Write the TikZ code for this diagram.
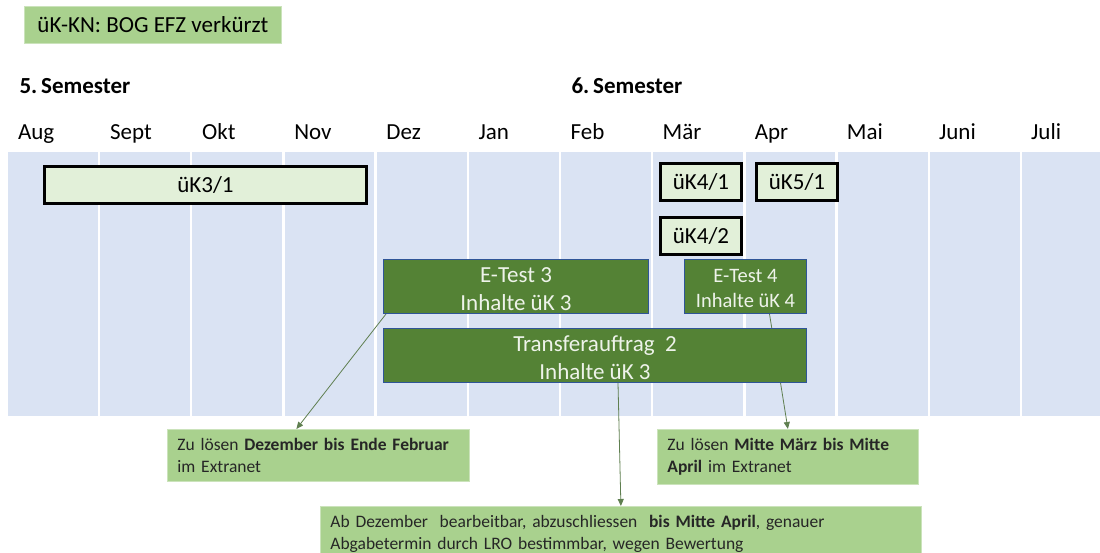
\documentclass[tikz,border=0pt]{standalone}
\usepackage{fontspec}
\setmainfont{Carlito}
\usepackage{xcolor}
\definecolor{bandblue}{HTML}{DAE3F3}
\definecolor{ukfill}{HTML}{E2F0D9}
\definecolor{notegreen}{HTML}{A9D18E}
\definecolor{testgreen}{HTML}{548235}
\definecolor{testedge}{HTML}{2F5597}
\definecolor{testtext}{HTML}{EEF3EA}
\definecolor{linkgreen}{HTML}{5F7F50}
\definecolor{notetext}{HTML}{262626}
\usepackage{tikz}
\usetikzlibrary{positioning,arrows.meta}
\pgfdeclarelayer{band}
\pgfdeclarelayer{links}
\pgfsetlayers{band,links,main}
\newcommand{\barfont}{\fontsize{23}{28}\selectfont}
\newcommand{\etestfont}{\fontsize{20.5}{24.5}\selectfont}
\newcommand{\notefont}{\fontsize{17.5}{22}\selectfont}
\newcommand{\lift}{\rule{0pt}{0.85em}}

\begin{document}
\begin{tikzpicture}[
        x=1pt, y=-1pt,
        ukbox/.style={rectangle, draw=black, line width=2.6pt, fill=ukfill, inner sep=0pt, minimum height=37.4pt, font=\barfont, anchor=north west},
        testbox/.style={rectangle, draw=testedge, line width=1pt, fill=testgreen, text=testtext, inner sep=0pt, minimum height=54pt, align=center, font=\barfont, anchor=north west},
        note/.style={rectangle, fill=notegreen, draw=notegreen!60!white, line width=0.8pt, text=notetext, align=left, inner xsep=10pt, inner ysep=9pt, font=\notefont, anchor=north west},
        month/.style={anchor=base west, font=\barfont},
        semester/.style={anchor=base west, font=\barfont\bfseries},
        relation/.style={-{Triangle[length=7pt,width=6pt]}, draw=linkgreen, line width=0.8pt}
    ]
        \useasboundingbox (0,0) rectangle (1100,553);

        % Timeline band
        \begin{pgfonlayer}{band}
            \fill[bandblue] (8,152) rectangle (1100,416);
            \foreach \k in {0,...,10}
                \draw[white, line width=2.5pt] (99+92.2*\k,152) -- (99+92.2*\k,416);
        \end{pgfonlayer}

        % Title
        \node[note, font=\barfont, text=black, inner xsep=0pt, align=center, minimum width=257pt, minimum height=37pt] (title) at (24,6) {üK-KN: BOG EFZ verkürzt};

        % Semesters and months
        \node[semester] (sem5) at (16,94) {5.\,Semester};
        \node[semester] (sem6) at (568,94) {6.\,Semester};
        \foreach \m [count=\i from 0] in {Aug,Sept,Okt,Nov,Dez,Jan,Feb,Mär,Apr,Mai,Juni,Juli}
            \node[month] (m\i) at (14.5+92.1*\i,140) {\m};

        % üK blocks
        \node[ukbox, minimum width=322.4pt] (uk31) at (43,165) {üK3/1};
        \node[ukbox, minimum width=81.4pt] (uk41) at (659,162) {üK4/1};
        \node[ukbox, minimum width=81.4pt, right=12pt of uk41] (uk51) {üK5/1};
        \node[ukbox, minimum width=81.4pt, below=14pt of uk41] (uk42) {üK4/2};

        % Tests and transfer
        \node[testbox, minimum width=265pt] (etest3) at (383,259) {\lift E-Test 3\\Inhalte üK 3};
        \node[testbox, minimum width=122pt, font=\etestfont] (etest4) at (684,259) {\lift E-Test 4\\Inhalte üK 4};
        \node[testbox, minimum width=423pt] (transfer) at (383,328) {\lift Transferauftrag~ 2\\Inhalte üK 3};

        % Notes
        \node[note, text width=282pt] (note1) at (167,429) {Zu lösen \textbf{Dezember bis Ende Februar}\\im Extranet};
        \node[note, text width=241pt] (note2) at (657,429) {Zu lösen \textbf{Mitte März bis Mitte}\\\textbf{April} im Extranet};
        \node[note, text width=581pt] (note3) at (320,506) {Ab Dezember~ bearbeitbar, abzuschliessen~ \textbf{bis Mitte April}, genauer\\Abgabetermin durch LRO bestimmbar, wegen Bewertung};

        % Relations
        \begin{pgfonlayer}{links}
            \draw[relation] ([xshift=3pt]etest3.south west) -- ([xshift=-22pt]note1.north);
            \draw[relation] ([xshift=23pt]transfer.south) -- (note3.north);
            \draw[relation] ([xshift=24pt]etest4.south) -- (note2.north);
        \end{pgfonlayer}

    \end{tikzpicture}
\end{document}
